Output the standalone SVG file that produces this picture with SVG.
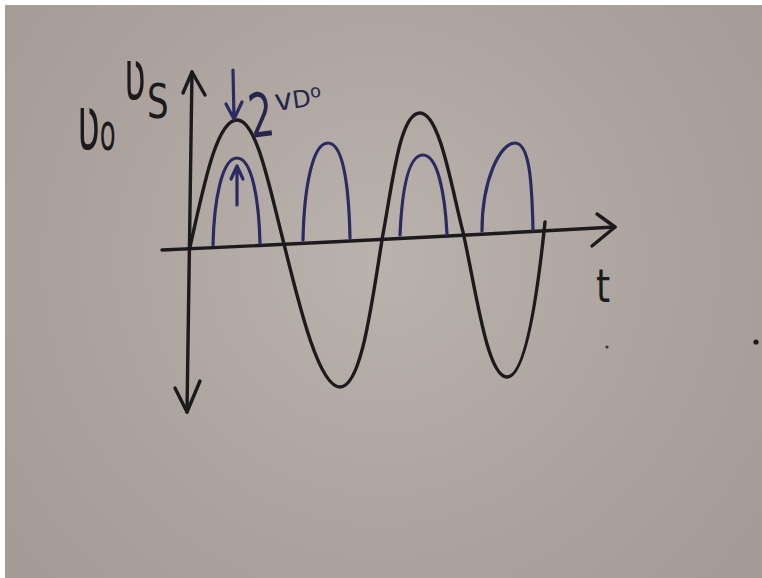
<svg xmlns="http://www.w3.org/2000/svg" width="762" height="578" viewBox="0 0 762 578">
<defs>
<radialGradient id="bg" cx="380" cy="260" r="480" gradientUnits="userSpaceOnUse">
<stop offset="0" stop-color="#bab2ac"/>
<stop offset="0.6" stop-color="#aca39e"/>
<stop offset="1" stop-color="#a49b97"/>
</radialGradient>
<style>
.ink{fill:none;stroke:#1c1a1c;stroke-width:3.4;stroke-linecap:round;stroke-linejoin:round}
.blue{fill:none;stroke:#2b2a62;stroke-width:3.2;stroke-linecap:round;stroke-linejoin:round}
.lbl{font-family:"DejaVu Sans",sans-serif;fill:#1c1a1c}
.lblb{font-family:"DejaVu Sans",sans-serif;fill:#26254a}
</style>
</defs>
<rect x="0" y="0" width="762" height="578" fill="#ffffff"/>
<rect x="5" y="5" width="757" height="573" fill="url(#bg)"/>

<g id="axes">
<path class="ink" d="M192,72 L187,412"/>
<path class="ink" d="M183,93 L192,72 L205,95"/>
<path class="ink" d="M175,388 L187,412 L200,381"/>
<path class="ink" d="M162,250 Q380,240 615,227"/>
<path class="ink" d="M597,214 L615,227 L592,246"/>
</g>

<g id="vs-wave">
<path class="ink" d="M190,247 C203,190 216,120 237,120 C257,120 270,190 283,240 C298,300 318,387 340,387 C362,387 372,300 383,234 C393,180 400,113 420,113 C440,113 452,190 463,232 C476,290 487,377 507,377 C525,377 537,300 545,222"/>
</g>

<g id="vo-wave">
<path class="blue" d="M213,245 C214,200 222,158 237,158 C252,158 259,200 260,243"/>
<path class="blue" d="M303,240 C304,190 312,143 328,143 C344,143 349,190 350,238"/>
<path class="blue" d="M400,235 C402,190 408,155 423,155 C438,155 445,195 447,234"/>
<path class="blue" d="M482,231 C482,180 500,143 515,143 C530,143 532,185 533,230"/>
<path class="blue" d="M237,205 L237,168 M231,179 L237,166 L243,179"/>
</g>

<g id="drop-marker">
<path class="blue" d="M233,70 L234,118 M226,104 L234,119 L242,102"/>
</g>

<g id="labels">
<text class="lbl" transform="translate(77,150) scale(1,2)" font-size="38">ʋ<tspan font-size="26">o</tspan></text>
<text class="lbl" transform="translate(124,100) scale(1,2)" font-size="36">ʋ</text>
<text class="lbl" transform="translate(147,118) scale(1,1.4)" font-size="34">S</text>
<text class="lblb" transform="translate(252,138) rotate(-8) scale(1,1.6)" font-size="38">2</text>
<text class="lblb" transform="translate(276,111) rotate(-8)" font-size="30">v<tspan font-size="24">D</tspan><tspan font-size="18" dy="-8">o</tspan></text>
<text class="lbl" transform="translate(596,302) scale(1,1.3)" font-size="36">t</text>
</g>

<g id="dots">
<circle cx="607" cy="347" r="1.6" fill="#3a3434"/>
<circle cx="756" cy="342" r="2.6" fill="#1c1a1c"/>
</g>
</svg>
